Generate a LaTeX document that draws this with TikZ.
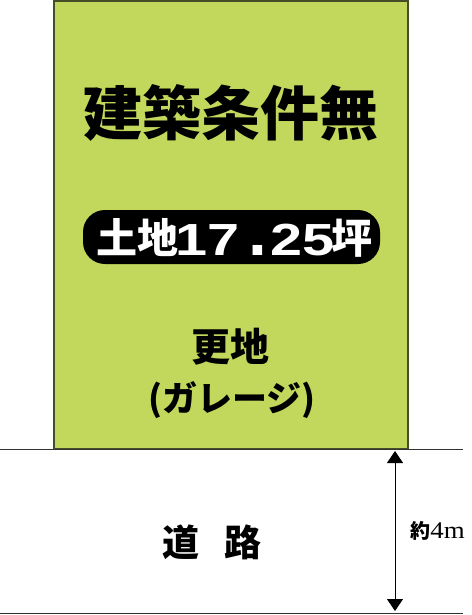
\documentclass[tikz,border=0pt]{standalone}
\usepackage{fontspec}
\usetikzlibrary{arrows.meta}
\newfontfamily\cjk{Noto Sans CJK JP}
\newfontfamily\cjkblack{Noto Sans CJK JP}[UprightFont=* Black]
\newfontfamily\serifnum{Liberation Serif}
\newfontfamily\sansnum{Liberation Sans}
\definecolor{lotgreen}{RGB}{194,216,92}
\definecolor{lotedge}{RGB}{70,78,40}
\tikzset{
  lot/.style={fill=lotgreen,draw=lotedge,line width=1.5pt},
  roadline/.style={draw=black!80,line width=1pt},
  dimarrow/.style={line width=1pt,{Triangle[width=16pt,length=12pt]}-{Triangle[width=16pt,length=12pt]}},
  label/.style={inner sep=0pt,font=\cjkblack},
  wlabel/.style={inner sep=0pt,text=white},
  digits/.style={wlabel,anchor=base,font=\sansnum\bfseries\fontsize{45}{45}\selectfont},
}
\begin{document}
\begin{tikzpicture}[x=1pt,y=-1pt]
\useasboundingbox (0,0) rectangle (471,615);
\fill[white] (0,0) rectangle (471,615);
\draw[lot] (54,1) rectangle (408,449);
\draw[roadline] (0,449) -- (463,449);
\draw[roadline] (0,613) -- (463,613);
\coordinate (atop) at (395,451);
\coordinate (abot) at (395,611);
\draw[dimarrow] (atop) -- (abot);
\node[label,font=\cjkblack\fontsize{59}{59}\selectfont] (title) at (231,113) {建築条件無};
\node[fill=black,rounded corners=22pt,minimum width=297pt,minimum height=54pt,inner sep=0pt] (area) at (231.5,237) {};
\node[wlabel,font=\cjkblack\fontsize{41}{41}\selectfont] (tochi) at (137,238) {土地};
\node[digits] (n17) at (207.5,255) {\scalebox{1.28}[1]{17}};
\node[digits] (dot) at (258,255) {\scalebox{1.5}{.}};
\node[digits] (n25) at (302.5,255) {\scalebox{1.28}[1]{25}};
\node[wlabel,font=\cjkblack\fontsize{41}{41}\selectfont] (tsubo) at (352,238) {坪};
\node[label,font=\cjkblack\fontsize{39}{39}\selectfont] (sara) at (230,347) {更地};
\node[label,font=\cjkblack\fontsize{35}{35}\selectfont] (garage) at (232,400) {(ガレージ)};
\node[label,font=\cjkblack\fontsize{37}{37}\selectfont] (road) at (212,542) {道\hspace{26pt}路};
\node[inner sep=0pt] (width) at (437.5,531) {{\cjk\bfseries\fontsize{20}{20}\selectfont 約}{\serifnum\fontsize{24}{24}\selectfont\scalebox{1.12}[1]{4m}}};
\end{tikzpicture}
\end{document}
